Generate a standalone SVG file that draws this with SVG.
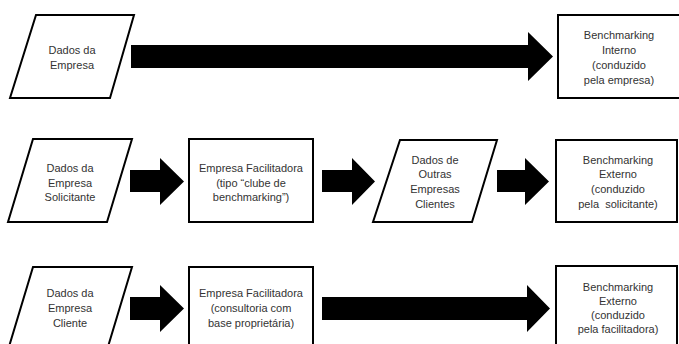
<svg xmlns="http://www.w3.org/2000/svg" width="679" height="344" viewBox="0 0 679 344">
<style>
.shape{fill:#fff;stroke:#000;stroke-width:2}
.arrow{fill:#000}
text{font-family:"Liberation Sans",Arial,sans-serif;font-size:11px;fill:#333;text-anchor:middle}
</style>
<rect width="679" height="344" fill="#fff"/>
<g id="connectors">
<polygon class="arrow" points="131,45 528,45 528,32 553,56.5 528,81 528,68 131,68"/>
<polygon class="arrow" points="130,170 160,170 160,158 184,181.5 160,205 160,192 130,192"/>
<polygon class="arrow" points="322,170 352,170 352,158 375,181.5 352,205 352,192 322,192"/>
<polygon class="arrow" points="497,170 525,170 525,158 549,181.5 525,205 525,192 497,192"/>
<polygon class="arrow" points="130,297 160,297 160,285 184,308.5 160,332 160,320 130,320"/>
<polygon class="arrow" points="322,297 527,297 527,285 550,308.5 527,332 527,320 322,320"/>
</g>
<g id="dados-empresa">
<polygon class="shape" points="36,15 134,15 110,98 10,98"/>
<text x="72" y="54">Dados da</text>
<text x="72" y="69">Empresa</text>
</g>
<g id="bench-interno">
<rect class="shape" x="558" y="15" width="125" height="83"/>
<text x="619" y="39">Benchmarking</text>
<text x="619" y="54">Interno</text>
<text x="619" y="69">(conduzido</text>
<text x="619" y="84">pela empresa)</text>
</g>
<g id="dados-solicitante">
<polygon class="shape" points="33,139 132,139 107,222 8,222"/>
<text x="70" y="172">Dados da</text>
<text x="70" y="187">Empresa</text>
<text x="70" y="201">Solicitante</text>
</g>
<g id="facilitadora-clube">
<rect class="shape" x="189" y="139" width="124" height="83"/>
<text x="251" y="172">Empresa Facilitadora</text>
<text x="251" y="187">(tipo “clube de</text>
<text x="251" y="201">benchmarking”)</text>
</g>
<g id="dados-outras">
<polygon class="shape" points="400,140 497,140 472,222 373,222"/>
<text x="435" y="164">Dados de</text>
<text x="435" y="178">Outras</text>
<text x="435" y="193">Empresas</text>
<text x="435" y="208">Clientes</text>
</g>
<g id="bench-externo-solicitante">
<rect class="shape" x="556" y="140" width="121" height="82"/>
<text x="618" y="164">Benchmarking</text>
<text x="618" y="178">Externo</text>
<text x="618" y="193">(conduzido</text>
<text x="618" y="208" xml:space="preserve">pela  solicitante)</text>
</g>
<g id="dados-cliente">
<polygon class="shape" points="33,267 132,267 107,350 8,350"/>
<text x="70" y="297">Dados da</text>
<text x="70" y="312">Empresa</text>
<text x="70" y="327">Cliente</text>
</g>
<g id="facilitadora-consultoria">
<rect class="shape" x="189" y="267" width="124" height="83"/>
<text x="251" y="297">Empresa Facilitadora</text>
<text x="251" y="312">(consultoria com</text>
<text x="251" y="327">base proprietária)</text>
</g>
<g id="bench-externo-facilitadora">
<rect class="shape" x="556" y="266" width="121" height="84"/>
<text x="618" y="291">Benchmarking</text>
<text x="618" y="305">Externo</text>
<text x="618" y="319">(conduzido</text>
<text x="618" y="333">pela facilitadora)</text>
</g>
</svg>
